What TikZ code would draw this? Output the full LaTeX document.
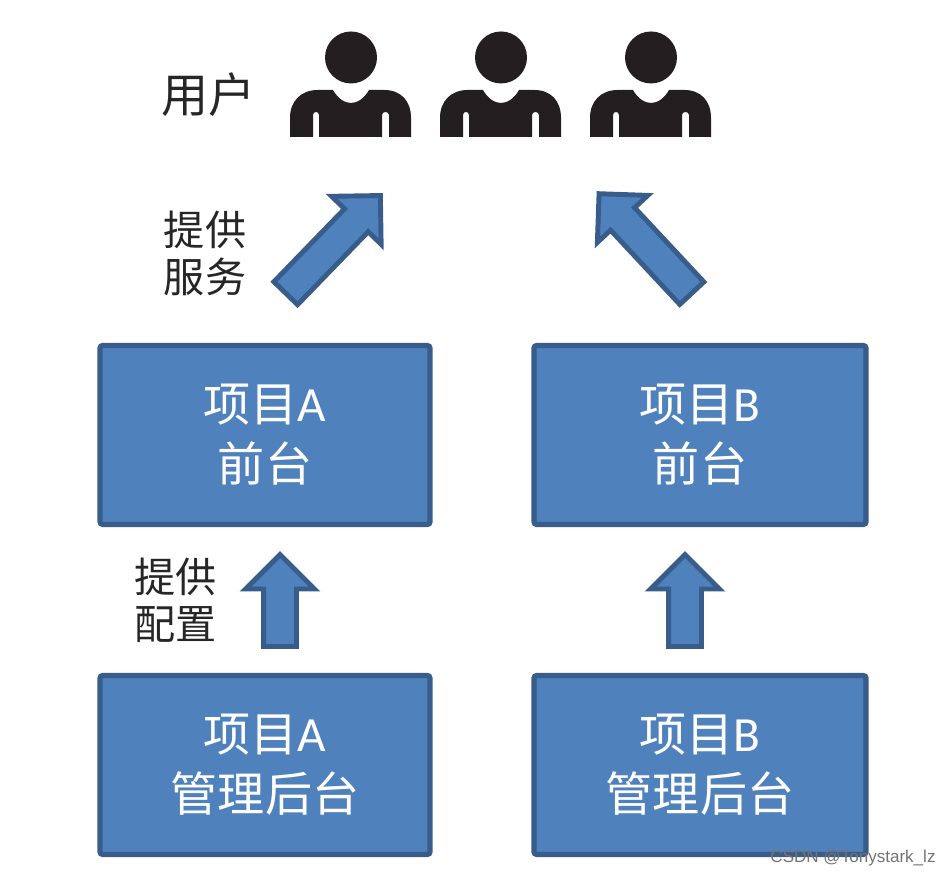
\documentclass[tikz,border=0pt]{standalone}
\usepackage{fontspec}
\usepackage{xcolor}
\usetikzlibrary{shapes.arrows}
\newfontfamily\cjk{Noto Sans CJK SC}
\newfontfamily\lat{Carlito}
\setsansfont{Liberation Sans}
\definecolor{kutuMavi}{HTML}{4F81BD}
\definecolor{kenarMavi}{HTML}{385D8A}
\definecolor{kisiSiyah}{HTML}{231F20}
\tikzset{
  kutu/.style={draw=kenarMavi,fill=kutuMavi,line width=1.5pt,rounded corners=0.8pt,minimum height=1.79cm,
    text=white,align=center,font=\cjk\fontsize{13.4}{17}\selectfont},
  okBlok/.style={draw=kenarMavi,fill=kutuMavi,line width=1.4pt,single arrow,single arrow tip angle=90,
    anchor=tail,inner sep=0.14cm,minimum width=0.68cm,single arrow head extend=0.18cm},
  etiket/.style={text=black!85,align=center,inner sep=0pt,font=\cjk\fontsize{11.7}{13.3}\selectfont},
  kisi/.pic={
    \fill[kisiSiyah] (0,-0.015) circle (0.26);
    \fill[kisiSiyah] (-0.61,-0.81) -- (-0.61,-0.62) .. controls (-0.61,-0.45) and (-0.5,-0.34) .. (-0.33,-0.34)
      -- (-0.18,-0.34) .. controls (-0.13,-0.43) and (-0.06,-0.47) .. (0,-0.47)
      .. controls (0.06,-0.47) and (0.13,-0.43) .. (0.18,-0.34) -- (0.33,-0.34)
      .. controls (0.5,-0.34) and (0.6,-0.45) .. (0.6,-0.62) -- (0.6,-0.81) -- (0.38,-0.81) -- (0.38,-0.59)
      .. controls (0.38,-0.55) and (0.31,-0.55) .. (0.31,-0.59) -- (0.31,-0.81) -- (-0.32,-0.81) -- (-0.32,-0.59)
      .. controls (-0.32,-0.55) and (-0.38,-0.55) .. (-0.38,-0.59) -- (-0.38,-0.81) -- cycle;
  }
}
\begin{document}
\begin{tikzpicture}
\useasboundingbox (0,0) rectangle (9.5,8.76);
\foreach \x in {3.51,5.01,6.51} \pic at (\x,8.2) {kisi};
\node[etiket,font=\cjk\fontsize{13.4}{15}\selectfont] (yonghu) at (2.085,7.81) {用户};
\node[etiket] (tigong) at (2.05,6.225) {提供\\服务};
\node[etiket] (peizhi) at (1.755,2.76) {提供\\配置};
\node[kutu,minimum width=3.3cm] (qiantaiA) at (2.65,4.41) {项目{\lat\fontsize{14}{17}\selectfont A}\\前台};
\node[kutu,minimum width=3.32cm] (qiantaiB) at (7,4.41) {项目{\lat\fontsize{14}{17}\selectfont B}\\前台};
\node[kutu,minimum width=3.3cm] (houtaiA) at (2.65,1.11) {项目{\lat\fontsize{14}{17}\selectfont A}\\管理后台};
\node[kutu,minimum width=3.32cm] (houtaiB) at (7,1.11) {项目{\lat\fontsize{14}{17}\selectfont B}\\管理后台};
\node[okBlok,rotate=45.9,minimum height=1.36cm] (okA) at (2.84,5.81) {};
\node[okBlok,rotate=133,minimum height=1.36cm] (okB) at (6.935,5.81) {};
\node[okBlok,rotate=90,minimum height=0.92cm] (okC) at (2.8,2.27) {};
\node[okBlok,rotate=90,minimum height=0.92cm] (okD) at (6.85,2.27) {};
\node[text=black!55,inner sep=0pt,font=\sffamily\fontsize{4.85}{6}\selectfont] (csdn) at (8.53,0.18) {CSDN @Tonystark\_lz};
\end{tikzpicture}
\end{document}
